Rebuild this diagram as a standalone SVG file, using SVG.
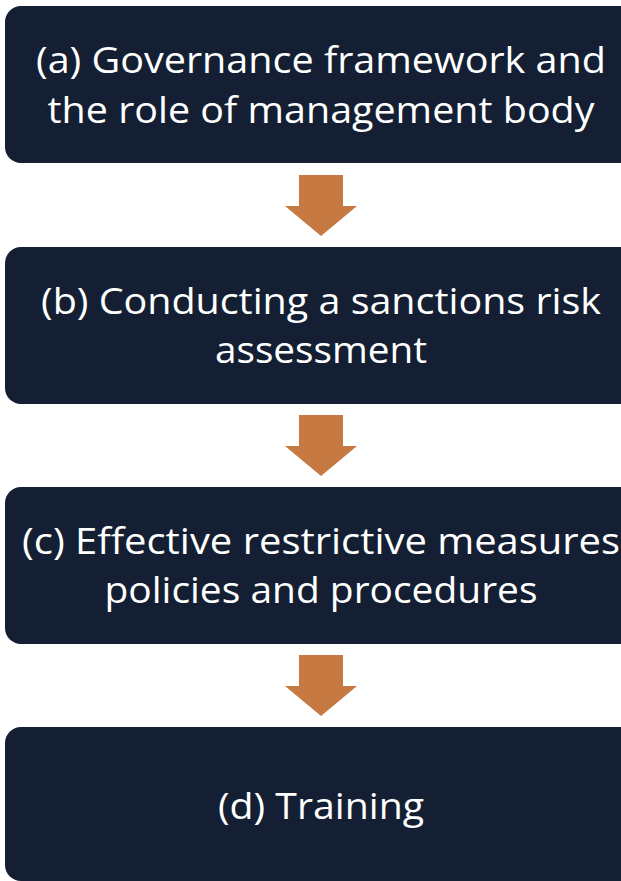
<svg xmlns="http://www.w3.org/2000/svg" width="621" height="881" viewBox="0 0 621 881">
<style>
.box{fill:#141F33}
.t{font-family:"Open Sans","Lato","Liberation Sans",sans-serif;font-size:37px;fill:#FFFFFF;text-anchor:middle}
.arr{fill:#C67A41}
</style>
<rect width="621" height="881" fill="#FFFFFF"/>
<g id="connectors">
<polygon class="arr" points="299,175 343,175 343,206 357,206 321,236 285,206 299,206"/>
<polygon class="arr" points="299,415 343,415 343,446 357,446 321,476 285,446 299,446"/>
<polygon class="arr" points="299,655 343,655 343,686 357,686 321,716 285,686 299,686"/>
</g>
<g id="node-a">
<rect class="box" x="5" y="6" width="640" height="157" rx="16"/>
<text class="t" x="321" y="73" textLength="570" lengthAdjust="spacingAndGlyphs">(a) Governance framework and</text>
<text class="t" x="321" y="123" textLength="547" lengthAdjust="spacingAndGlyphs">the role of management body</text>
</g>
<g id="node-b">
<rect class="box" x="5" y="247" width="640" height="157" rx="16"/>
<text class="t" x="321" y="314" textLength="560" lengthAdjust="spacingAndGlyphs">(b) Conducting a sanctions risk</text>
<text class="t" x="321" y="363" textLength="212" lengthAdjust="spacingAndGlyphs">assessment</text>
</g>
<g id="node-c">
<rect class="box" x="5" y="487" width="640" height="157" rx="16"/>
<text class="t" x="321" y="554" textLength="598" lengthAdjust="spacingAndGlyphs">(c) Effective restrictive measures</text>
<text class="t" x="321" y="603" textLength="433" lengthAdjust="spacingAndGlyphs">policies and procedures</text>
</g>
<g id="node-d">
<rect class="box" x="5" y="727" width="640" height="154" rx="16"/>
<text class="t" x="321" y="819" textLength="206" lengthAdjust="spacingAndGlyphs">(d) Training</text>
</g>
</svg>
